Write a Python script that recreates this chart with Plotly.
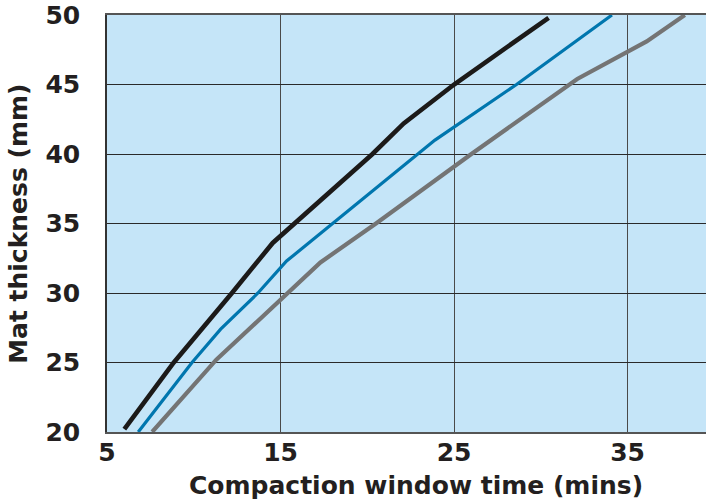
import plotly.graph_objects as go

# Data
black_x = [6.0, 8.85, 12.2, 14.55, 20.3, 22.1, 25.0, 30.45]
black_y = [20.2, 25.0, 30.0, 33.6, 40.0, 42.2, 45.0, 49.8]

blue_x = [6.8, 9.9, 11.55, 13.7, 15.35, 18.0, 23.9, 28.6, 34.1]
blue_y = [20.0, 25.0, 27.4, 30.0, 32.3, 35.0, 41.0, 45.0, 50.0]

gray_x = [7.6, 11.3, 17.3, 20.5, 26.0, 32.1, 36.1, 38.3]
gray_y = [20.0, 25.2, 32.2, 35.0, 40.0, 45.4, 48.1, 50.0]

x_ticks = [5, 15, 25, 35]
y_ticks = [20, 25, 30, 35, 40, 45, 50]

x_title = "Compaction window time (mins)"
y_title = "Mat thickness (mm)"

FONT = "DejaVu Sans"
TXT = "#231f20"

fig = go.Figure()
fig.add_trace(go.Scatter(x=gray_x, y=gray_y, mode="lines",
                         line=dict(color="#747474", width=4.2), showlegend=False))
fig.add_trace(go.Scatter(x=blue_x, y=blue_y, mode="lines",
                         line=dict(color="#0076ae", width=3.2), showlegend=False))
fig.add_trace(go.Scatter(x=black_x, y=black_y, mode="lines",
                         line=dict(color="#1c1a19", width=4.6), showlegend=False))

fig.update_layout(
    width=706, height=500,
    margin=dict(l=107, r=0, t=15, b=68, autoexpand=False),
    paper_bgcolor="white",
    plot_bgcolor="#c5e5f8",
    font=dict(family=FONT, color=TXT),
    xaxis=dict(
        range=[5, 39.52], tickvals=x_ticks, ticktext=[str(v) for v in x_ticks],
        showgrid=True, gridcolor="#4a4a4a", gridwidth=1.2,
        showline=True, linecolor="#555555", linewidth=1.5, mirror=True,
        ticks="", zeroline=False, automargin=False,
        tickfont=dict(family=FONT, size=25, color=TXT, weight="bold"),
        ticklabelstandoff=-3,
    ),
    yaxis=dict(
        range=[20, 50], tickvals=y_ticks, ticktext=[str(v) for v in y_ticks],
        showgrid=True, gridcolor="#2a2a2a", gridwidth=1.2,
        showline=True, linecolor="#333333", linewidth=1.5,
        ticks="", zeroline=False, automargin=False,
        tickfont=dict(family=FONT, size=25, color=TXT, weight="bold"),
        ticklabelstandoff=20,
    ),
    annotations=[
        dict(text=x_title, xref="paper", yref="paper", x=0.516, y=-0.128,
             xanchor="center", yanchor="middle", showarrow=False,
             font=dict(family=FONT, size=25, color=TXT, weight="bold")),
        dict(text=y_title, xref="paper", yref="paper", x=-0.148, y=0.5,
             xanchor="center", yanchor="middle", showarrow=False, textangle=-90,
             font=dict(family=FONT, size=25, color=TXT, weight="bold")),
    ],
)

fig.write_html(
    "out.html",
    config={"displayModeBar": False},
    post_script="document.body.style.margin='0';document.body.style.overflow='hidden';",
)
